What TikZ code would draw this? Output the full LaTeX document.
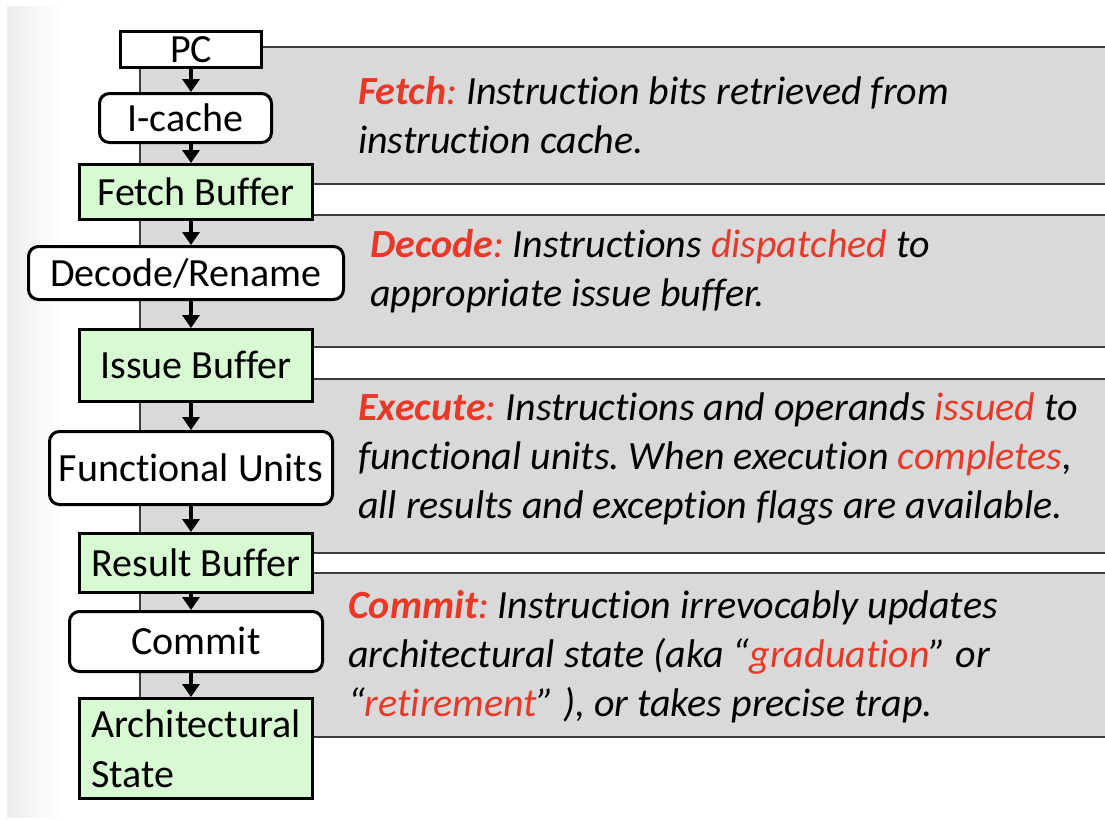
\documentclass[tikz,border=0pt]{standalone}
\usepackage{fontspec}
\setmainfont{Carlito}[Ligatures={TeX,NoCommon}]
\usetikzlibrary{arrows.meta}

\definecolor{stagered}{RGB}{233,56,40}
\definecolor{bufgreen}{RGB}{216,250,210}
\definecolor{panelgray}{RGB}{217,217,217}
\definecolor{paneledge}{RGB}{60,60,60}

\newcommand{\boxfont}{\fontsize{40}{50}\selectfont}
\newcommand{\stagename}[1]{{\color{stagered}\bfseries #1}{\color{stagered}:}}
\newcommand{\hl}[1]{\textcolor{stagered}{#1}}
\frenchspacing

\begin{document}
\begin{tikzpicture}[x=1pt,y=-1pt,
  blockbase/.style={draw=black,line width=3pt,inner sep=0pt,font=\boxfont,
                    text height=26pt,text depth=0pt},
  unitbox/.style={blockbase,fill=white,rounded corners=10pt},
  bufbox/.style={blockbase,fill=bufgreen},
  flow/.style={line width=4.5pt,-{Triangle[width=17pt,length=13pt]}},
  panelfill/.style={fill=panelgray},
  paneledge/.style={draw=paneledge,line width=1.8pt},
  desc/.style={anchor=base west,inner sep=0pt,font=\boxfont\itshape}]

  % page and soft strip on the left
  \fill[white] (0,0) rectangle (1105,819);
  \useasboundingbox (0,0) rectangle (1105,819);
  \shade[left color=gray!14,right color=white] (7,6) rectangle (62,817);

  % stage panels behind the pipeline
  \foreach \top/\bot in {47/184, 215/347, 379/553, 573/737} {
    \fill[panelfill] (140,\top) rectangle (1105,\bot);
    \draw[paneledge] (1105,\top) -- (140,\top) -- (140,\bot) -- (1105,\bot);
  }

  % pipeline blocks
  \coordinate (axis) at (191,0);
  \node[bufbox,fill=white,minimum width=141pt,minimum height=36pt] (pc) at (191,49.5) {PC};
  \node[unitbox,minimum width=172pt,minimum height=49pt] (icache) at (185.5,118) {I-cache};
  \node[bufbox,minimum width=233pt,minimum height=55pt] (fetchbuf) at (196,192) {Fetch Buffer};
  \node[unitbox,minimum width=315pt,minimum height=53pt] (decode) at (186,273) {Decode/Rename};
  \node[bufbox,minimum width=233pt,minimum height=72pt] (issuebuf) at (196,365.5) {Issue Buffer};
  \node[unitbox,minimum width=283pt,minimum height=73pt] (fu) at (191,468) {Functional Units};
  \node[bufbox,minimum width=233pt,minimum height=59pt] (resultbuf) at (196,563) {Result Buffer};
  \node[unitbox,minimum width=253pt,minimum height=60pt] (commit) at (196,641.5) {Commit};
  \node[bufbox,text height=,text depth=,align=left,minimum width=233pt,minimum height=100pt]
       (arch) at (196,748.5) {Architectural\\State};

  % flow arrows
  \draw[flow] (pc.south -| axis) -- (icache.north -| axis);
  \draw[flow] (icache.south -| axis) -- (fetchbuf.north -| axis);
  \draw[flow] (fetchbuf.south -| axis) -- (decode.north -| axis);
  \draw[flow] (decode.south -| axis) -- (issuebuf.north -| axis);
  \draw[flow] (issuebuf.south -| axis) -- (fu.north -| axis);
  \draw[flow] (fu.south -| axis) -- (resultbuf.north -| axis);
  \draw[flow] (resultbuf.south -| axis) -- (commit.north -| axis);
  \draw[flow] (commit.south -| axis) -- (arch.north -| axis);

  % stage descriptions
  \node[desc] (fetchA) at (358,104) {\stagename{Fetch} Instruction bits retrieved from};
  \node[desc] (fetchB) at (358,153) {instruction cache.};

  \node[desc] (decodeA) at (370,257) {\stagename{Decode} Instructions \hl{dispatched} to};
  \node[desc] (decodeB) at (370,306) {appropriate issue buffer.};

  \node[desc] (execA) at (358,420) {\stagename{Execute} Instructions and operands \hl{issued} to};
  \node[desc] (execB) at (358,469) {functional units. When execution \hl{completes},};
  \node[desc] (execC) at (358,518) {all results and exception flags are available.};

  \node[desc] (commitA) at (348,618) {\stagename{Commit} Instruction irrevocably updates};
  \node[desc] (commitB) at (348,667) {architectural state (aka “\hl{graduation}” or};
  \node[desc] (commitC) at (348,716) {“\hl{retirement}” ), or takes precise trap.};
\end{tikzpicture}
\end{document}
